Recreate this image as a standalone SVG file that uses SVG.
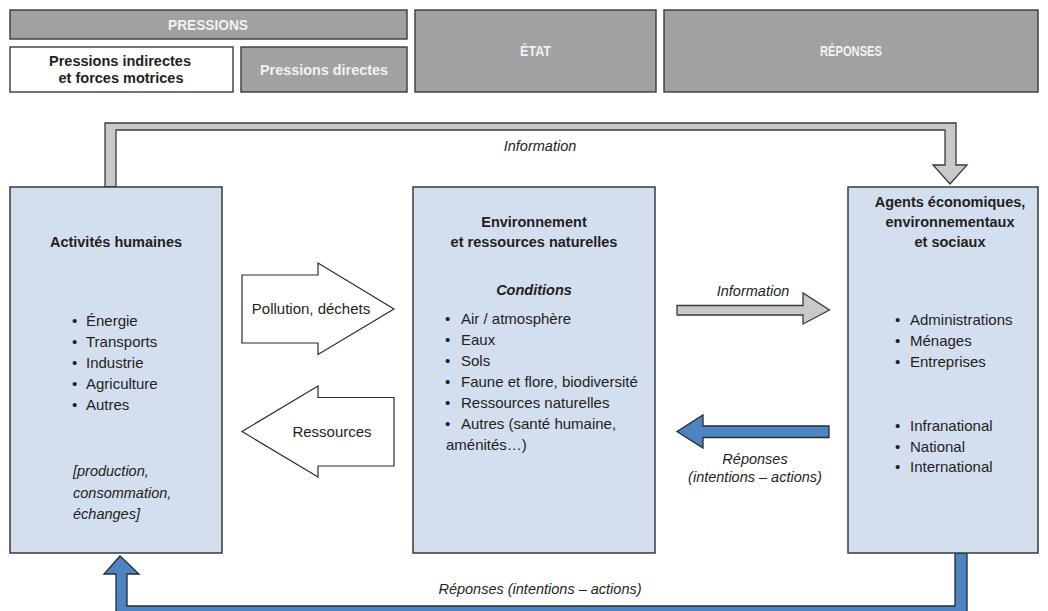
<svg xmlns="http://www.w3.org/2000/svg" width="1048" height="611" viewBox="0 0 1048 611">
<style>
.hdr{fill:#a0a1a3;stroke:#3a3a3a;stroke-width:1.4}
.hdrw{fill:#ffffff;stroke:#3a3a3a;stroke-width:1.4}
.box{fill:#d3deef;stroke:#3a3a3a;stroke-width:1.5}
.ht{font-family:"Liberation Sans",Arial,sans-serif;font-weight:bold;font-size:14px;fill:#f2f2f2;text-anchor:middle}
.hb{font-family:"Liberation Sans",Arial,sans-serif;font-weight:bold;font-size:14.5px;fill:#231f20;text-anchor:middle}
.t{font-family:"Liberation Sans",Arial,sans-serif;font-size:15px;fill:#231f20}
.tb{font-family:"Liberation Sans",Arial,sans-serif;font-weight:bold;font-size:14.5px;fill:#231f20;text-anchor:middle}
.ti{font-family:"Liberation Sans",Arial,sans-serif;font-style:italic;font-size:14.5px;fill:#231f20}
.c{text-anchor:middle}
.grey{fill:#c8c9cb;stroke:#3a3a3a;stroke-width:1.3}
.blue{fill:#4d84c4;stroke:#2a2a2a;stroke-width:1.3}
.white{fill:#ffffff;stroke:#2a2a2a;stroke-width:1.2}
</style>

<g id="header">
  <g id="h-pressions"><rect class="hdr" x="10" y="10" width="397" height="29"/><text class="ht" x="208" y="29.5" textLength="80" lengthAdjust="spacingAndGlyphs">PRESSIONS</text></g>
  <g id="h-indirectes"><rect class="hdrw" x="10" y="47" width="223" height="45"/><text class="hb" x="120" y="66" textLength="142" lengthAdjust="spacingAndGlyphs">Pressions indirectes</text><text class="hb" x="121" y="83" textLength="125" lengthAdjust="spacingAndGlyphs">et forces motrices</text></g>
  <g id="h-directes"><rect class="hdr" x="241" y="47" width="166" height="45"/><text class="ht" x="324" y="75" font-size="14.5" textLength="128" lengthAdjust="spacingAndGlyphs">Pressions directes</text></g>
  <g id="h-etat"><rect class="hdr" x="415" y="10" width="241" height="82"/><text class="ht" x="535.5" y="56" textLength="31" lengthAdjust="spacingAndGlyphs">ÉTAT</text></g>
  <g id="h-reponses"><rect class="hdr" x="664" y="10" width="374" height="82"/><text class="ht" x="851" y="56" textLength="62" lengthAdjust="spacingAndGlyphs">RÉPONSES</text></g>
</g>

<g id="connectors">
  <polygon class="grey" points="105,187 105,123 956,123 956,165 967,165 950,184 933,165 945,165 945,130 116,130 116,187"/>
  <text class="ti c" x="540" y="151">Information</text>
  <polygon class="blue" points="955,553 955,606 127,606 127,574 139,574 120,556 104,574 116,574 116,614 967,614 967,553"/>
  <text class="ti c" x="540" y="594">Réponses (intentions – actions)</text>
  <polygon class="white" points="242,275 318,275 318,263 394,309 318,354.5 318,343 242,343"/>
  <text class="t c" x="311" y="314">Pollution, déchets</text>
  <polygon class="white" points="242,431.5 318,386 318,397.5 394,397.5 394,466 318,466 318,477"/>
  <text class="t c" x="332" y="437">Ressources</text>
  <polygon class="grey" points="677,305.5 803,305.5 803,293 829.5,310 803,324 803,315 677,315"/>
  <text class="ti c" x="753" y="296">Information</text>
  <polygon class="blue" points="677,431.5 703,415 703,426 829,426 829,437.5 703,437.5 703,448"/>
  <text class="ti c" x="755" y="464">Réponses</text>
  <text class="ti c" x="755" y="482">(intentions – actions)</text>
</g>

<g id="activites">
  <rect class="box" x="10" y="187" width="212" height="366"/>
  <text class="tb" x="116" y="247">Activités humaines</text>
  <g class="t">
    <text x="72" y="326">•</text><text x="86" y="326">Énergie</text>
    <text x="72" y="346.5">•</text><text x="86" y="346.5">Transports</text>
    <text x="72" y="367.5">•</text><text x="86" y="367.5">Industrie</text>
    <text x="72" y="388.5">•</text><text x="86" y="388.5">Agriculture</text>
    <text x="72" y="409.5">•</text><text x="86" y="409.5">Autres</text>
  </g>
  <text class="ti" x="73" y="476">[production,</text>
  <text class="ti" x="73" y="497.5">consommation,</text>
  <text class="ti" x="73" y="519">échanges]</text>
</g>

<g id="environnement">
  <rect class="box" x="413" y="187" width="242" height="366"/>
  <text class="tb" x="534" y="227">Environnement</text>
  <text class="tb" x="534" y="247">et ressources naturelles</text>
  <text class="tb" x="534" y="295" font-style="italic">Conditions</text>
  <g class="t">
    <text x="445" y="324">•</text><text x="461" y="324">Air / atmosphère</text>
    <text x="445" y="345">•</text><text x="461" y="345">Eaux</text>
    <text x="445" y="366">•</text><text x="461" y="366">Sols</text>
    <text x="445" y="387">•</text><text x="461" y="387">Faune et flore, biodiversité</text>
    <text x="445" y="408">•</text><text x="461" y="408">Ressources naturelles</text>
    <text x="445" y="429">•</text><text x="461" y="429">Autres (santé humaine,</text>
    <text x="446" y="450">aménités…)</text>
  </g>
</g>

<g id="agents">
  <rect class="box" x="848" y="187" width="190" height="366"/>
  <text class="tb" x="950" y="207">Agents économiques,</text>
  <text class="tb" x="950" y="227">environnementaux</text>
  <text class="tb" x="950" y="247">et sociaux</text>
  <g class="t">
    <text x="895" y="325">•</text><text x="910" y="325">Administrations</text>
    <text x="895" y="346">•</text><text x="910" y="346">Ménages</text>
    <text x="895" y="367">•</text><text x="910" y="367">Entreprises</text>
    <text x="895" y="431">•</text><text x="910" y="431">Infranational</text>
    <text x="895" y="451.5">•</text><text x="910" y="451.5">National</text>
    <text x="895" y="472">•</text><text x="910" y="472">International</text>
  </g>
</g>
</svg>
